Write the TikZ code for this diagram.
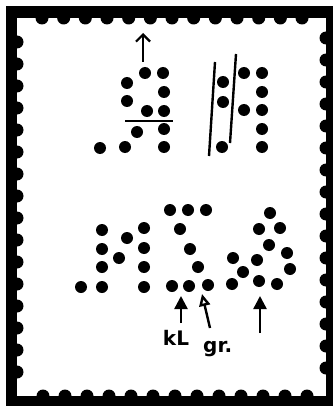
\documentclass[tikz,border=0pt]{standalone}
\usepackage{fontspec}
\setsansfont{DejaVu Sans}
\usetikzlibrary{arrows.meta}

\begin{document}
\begin{tikzpicture}[x=1pt, y=-1pt,
  hole/.style={circle, fill=black, inner sep=0pt, minimum size=12pt},
  bar/.style={line width=2.4pt},
  arr/.style={-{Triangle[length=13pt,width=13pt]}, line width=2.4pt},
  openarr/.style={-{Triangle[open,length=12pt,width=11pt]}, line width=2.4pt},
  barb/.style={-{Straight Barb[length=7pt,width=14pt]}, line width=2.2pt},
  hand/.style={font=\sffamily\bfseries\fontsize{20}{20}\selectfont, inner sep=0pt}
]
  \useasboundingbox (0,0) rectangle (335,409);
  % stamp frame with perforations
  \fill[black] (6,6) rectangle (333,406);
  \fill[white] (17,18) rectangle (326,396);
  \foreach \i in {0,...,12} {
    \fill (42+21.67*\i,18) circle (6.5pt);
    \fill (43+22*\i,396) circle (6.5pt);
  }
  \foreach \i in {0,...,15} {
    \fill (17,42+22*\i) circle (6.5pt);
    \fill (326,38+22*\i) circle (6.5pt);
  }

  % upper left letter
  \foreach \x/\y [count=\i] in {145/73, 163/73, 127/83, 164/92, 127/101, 147/111,
      164/111, 137/132, 164/129, 100/148, 125/147, 164/147}
    \node[hole] (a\i) at (\x,\y) {};
  \draw[bar] (125,121) -- (173,121);
  \coordinate (atail) at (143,62);
  \coordinate (atip) at (143,33);
  \draw[barb] (atail) -- (atip);

  % upper right letter
  \foreach \x/\y [count=\i] in {223/82, 223/102, 244/73, 262/73, 262/92, 244/110,
      262/110, 262/129, 222/147, 262/147}
    \node[hole] (h\i) at (\x,\y) {};
  \draw[bar] (215,62) -- (209,156);
  \draw[bar] (236,54) -- (230,143);

  % lower row
  \foreach \x/\y [count=\i] in {102/230, 127/238, 144/228, 102/249, 144/248, 119/258,
      102/267, 144/267, 81/287, 102/287, 144/287}
    \node[hole] (n\i) at (\x,\y) {};
  \foreach \x/\y [count=\i] in {170/210, 188/210, 206/210, 180/229, 190/249, 198/267,
      172/286, 189/286, 208/285}
    \node[hole] (z\i) at (\x,\y) {};
  \foreach \x/\y [count=\i] in {270/213, 259/229, 280/228, 269/245, 287/253, 233/258,
      257/260, 290/269, 243/272, 232/284, 259/281, 277/284}
    \node[hole] (d\i) at (\x,\y) {};

  % hints
  \node[hand, anchor=base] (kl) at (176,345) {kL};
  \node[hand, anchor=base west] (gr) at (203,352) {gr.};
  \coordinate (kltail) at (181,323);
  \coordinate (kltip) at (181,296);
  \coordinate (grtail) at (210,328);
  \coordinate (grtip) at (202,294);
  \coordinate (dtail) at (260,333);
  \coordinate (dtip) at (260,296);
  \draw[arr] (kltail) -- (kltip);
  \draw[openarr] (grtail) -- (grtip);
  \draw[arr] (dtail) -- (dtip);
\end{tikzpicture}
\end{document}
